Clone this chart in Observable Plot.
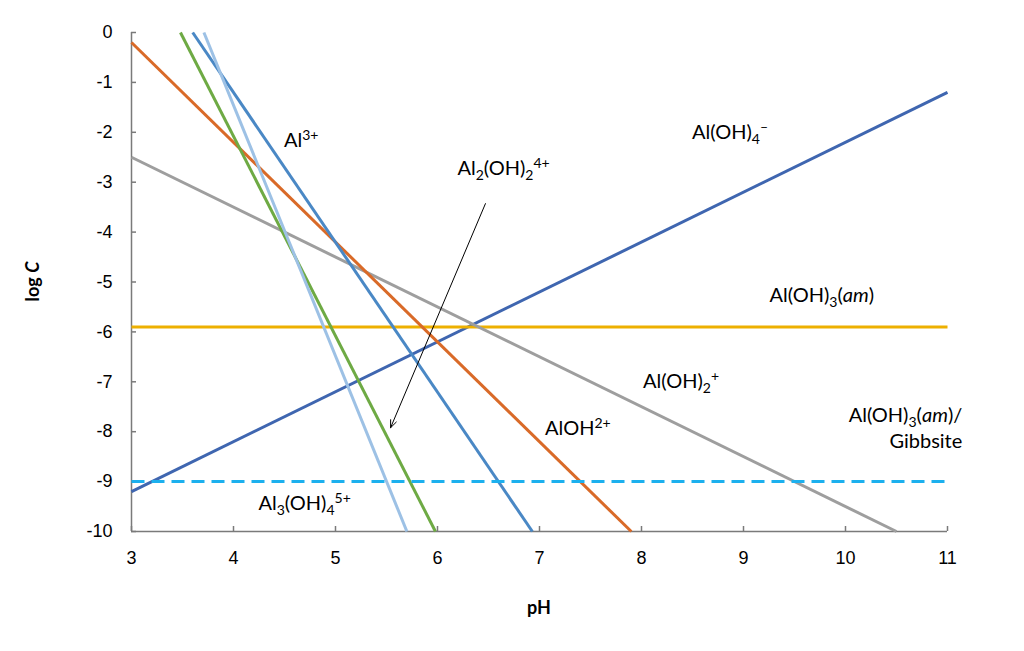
<!DOCTYPE html>
<html><head><meta charset="utf-8">
<script src="https://cdn.jsdelivr.net/npm/d3@7"></script>
<script src="https://cdn.jsdelivr.net/npm/@observablehq/plot@0.6"></script>
<style>body{margin:0;background:#fff}</style>
</head><body><div id="chart"></div>
<script>
// ---- data ----
const species = ["Al(OH)4-", "Al(OH)3(am)", "Gibbsite", "Al(OH)2+", "AlOH2+", "Al3+", "Al2(OH)2 4+", "Al3(OH)4 5+"];
const startPH   = [3, 3, 3, 3, 3, 3.60, 3.48, 3.71];
const startLogC = [-9.2, -5.9, -9.0, -2.5, -0.2, 0, 0, 0];
const endPH     = [11, 11, 11, 10.5, 7.9, 6.93, 5.98, 5.70];
const endLogC   = [-1.2, -5.9, -9.0, -10, -10, -10, -10, -10];
const lineColors = ["#3F66B0", "#EDB000", "#1CB0EE", "#9E9E9E", "#D96A28", "#4A88C5", "#6EAA44", "#9DC1E5"];
const dashed = [false, false, true, false, false, false, false, false];

const xTicks = [3, 4, 5, 6, 7, 8, 9, 10, 11];
const yTicks = [0, -1, -2, -3, -4, -5, -6, -7, -8, -9, -10];

// arrow from Al2(OH)2 4+ label to its line
const arrowFrom = [6.47, -3.43];
const arrowTo   = [5.54, -7.92];

// species labels: segments [text, kind]
const labelSegs = [
  [["Al",""],["3+","sup"]],
  [["Al",""],["2","sub"],["(OH)",""],["2","sub"],["4+","sup"]],
  [["Al(OH)",""],["4","sub"],["\u2013","sup"]],
  [["Al(OH)",""],["3","sub"],["(",""],["am","i"],[")",""]],
  [["Al(OH)",""],["2","sub"],["+","sup"]],
  [["AlOH",""],["2+","sup"]],
  [["Al(OH)",""],["3","sub"],["(",""],["am","i"],[")/",""]],
  [["Gibbsite",""]],
  [["Al",""],["3","sub"],["(OH)",""],["4","sub"],["5+","sup"]]
];
const labelPH   = [4.5, 6.2, 8.5, 9.26, 8.02, 7.06, 11.15, 11.15, 4.25];
const labelLogC = [-2.3, -2.87, -2.14, -5.41, -7.13, -8.08, -7.82, -8.34, -9.58];
const labelAnchor = ["start","start","start","start","start","start","end","end","start"];

// ---- build ----
const lines = species.map((s, i) => ({s, i, x1: startPH[i], y1: startLogC[i], x2: endPH[i], y2: endLogC[i]}));

const plot = Plot.plot({
  width: 1024, height: 651,
  marginLeft: 131, marginRight: 77, marginTop: 32, marginBottom: 120,
  x: {domain: [3, 11]},
  y: {domain: [-10, 0]},
  style: {fontFamily: "'Liberation Sans', Arial, sans-serif", fontSize: "18px", color: "#000", background: "#fff"},
  marks: [
    Plot.ruleX([3], {y1: -10, y2: 0, stroke: "#7a7a7a", strokeWidth: 1.5}),
    Plot.ruleY([-10], {x1: 3, x2: 11, stroke: "#7a7a7a", strokeWidth: 1.5}),
    Plot.axisX({ticks: xTicks, tickSize: -5, tickFormat: () => "", stroke: "#7a7a7a", strokeWidth: 1.5, label: null}),
    Plot.axisY({ticks: yTicks, tickSize: -5, tickFormat: () => "", stroke: "#7a7a7a", strokeWidth: 1.5, label: null}),
    Plot.axisX({ticks: xTicks, tickSize: 0, tickPadding: 20, tickFormat: d => String(d), label: null, fill: "#000", fontSize: 18}),
    Plot.axisY({ticks: yTicks, tickSize: 0, tickPadding: 19, tickFormat: d => String(d), label: null, fill: "#000", fontSize: 18}),
    Plot.link(lines.filter(d => !dashed[d.i]), {x1: "x1", y1: "y1", x2: "x2", y2: "y2",
      stroke: d => lineColors[d.i], strokeWidth: 3}),
    Plot.link(lines.filter(d => dashed[d.i]), {x1: "x1", y1: "y1", x2: "x2", y2: "y2",
      stroke: d => lineColors[d.i], strokeWidth: 3, strokeDasharray: "13,7"}),
    Plot.arrow([0], {x1: arrowFrom[0], y1: arrowFrom[1], x2: arrowTo[0], y2: arrowTo[1],
      stroke: "#000", strokeWidth: 1, headLength: 12, headAngle: 45})
  ]
});
document.getElementById("chart").appendChild(plot);

const sx = plot.scale("x"), sy = plot.scale("y");
const svg = d3.select(plot);
// enlarge the axis tick labels (only texts present so far)
svg.selectAll("text").style("font-size", "18px").attr("font-size", 18);
svg.selectAll("g").filter(function() { return this.querySelector("text"); }).attr("font-size", 18);

const labelFont = "Lato, 'Open Sans', sans-serif";

labelSegs.forEach((segs, i) => {
  const t = svg.append("text")
    .attr("x", sx.apply(labelPH[i]))
    .attr("y", sy.apply(labelLogC[i]))
    .attr("text-anchor", labelAnchor[i])
    .attr("font-family", labelFont)
    .style("font-size", "20px")
    .attr("fill", "#000");
  let off = 0;
  segs.forEach(([txt, kind]) => {
    const target = kind === "sub" ? 5 : kind === "sup" ? -7 : 0;
    const ts = t.append("tspan").text(txt).attr("dy", target - off);
    off = target;
    if (kind === "sub" || kind === "sup") ts.style("font-size", "14px");
    if (kind === "i") ts.attr("font-style", "italic");
  });
});

// axis titles
svg.append("text")
  .attr("x", (sx.apply(3) + sx.apply(11)) / 2).attr("y", 614)
  .attr("text-anchor", "middle").attr("font-family", labelFont)
  .attr("font-weight", "bold").style("font-size", "18px").text("pH");
const yl = svg.append("text")
  .attr("transform", `translate(39,${(sy.apply(0) + sy.apply(-10)) / 2}) rotate(-90)`)
  .attr("text-anchor", "middle").attr("font-family", labelFont)
  .attr("font-weight", "bold").style("font-size", "18px");
yl.append("tspan").text("log ");
yl.append("tspan").attr("font-style", "italic").text("C");
</script>
</body></html>
